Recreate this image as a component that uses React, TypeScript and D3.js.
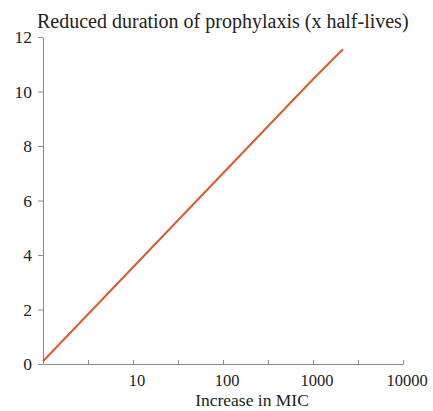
import React, { useEffect, useRef } from 'react';
import * as d3 from 'd3';

// values
const micIncrease = [1, 10, 100, 1000, 2150];
const reducedDuration = [0.1, 3.55, 7.0, 10.45, 11.55];
const xTickValues = [1, 3.1623, 10, 31.623, 100, 316.23, 1000, 3162.3, 10000];
const xTickLabels = ['10', '100', '1000', '10000'];
const yTickValues = [0, 2, 4, 6, 8, 10, 12];

const title = 'Reduced duration of prophylaxis (x half-lives)';
const xLabel = 'Increase in MIC';

const App = () => {
  const ref = useRef<SVGSVGElement>(null);
  const width = 433;
  const height = 411;

  useEffect(() => {
    const svg = d3.select(ref.current);
    svg.selectAll('*').remove();

    const margin = { top: 37, right: 30, bottom: 47, left: 43 };
    const font = 'Liberation Serif, Times New Roman, serif';
    const axisColor = '#8a8a8a';
    const textColor = '#222';

    const x = d3.scaleLog()
      .domain([1, 10000])
      .range([margin.left, width - margin.right]);
    const y = d3.scaleLinear()
      .domain([0, 12])
      .range([height - margin.bottom, margin.top]);

    // x axis, ticks pointing up
    const xAxis = svg.append('g')
      .attr('transform', `translate(0,${height - margin.bottom})`)
      .call(d3.axisBottom(x).tickValues(xTickValues).tickSizeInner(-4).tickSizeOuter(0).tickFormat(() => ''));
    xAxis.select('.domain').attr('stroke', axisColor);
    xAxis.selectAll('line').attr('stroke', axisColor);

    svg.append('g')
      .selectAll('text')
      .data(xTickLabels)
      .join('text')
      .attr('x', d => x(+d) + 4)
      .attr('y', height - margin.bottom + 22)
      .attr('text-anchor', 'middle')
      .attr('font-family', font)
      .attr('font-size', 16.5)
      .attr('fill', textColor)
      .text(d => d);

    // y axis
    const yAxis = svg.append('g')
      .attr('transform', `translate(${margin.left},0)`)
      .call(d3.axisLeft(y).tickValues(yTickValues).tickSizeInner(5).tickSizeOuter(0).tickPadding(6));
    yAxis.select('.domain').attr('stroke', axisColor);
    yAxis.selectAll('line').attr('stroke', axisColor);
    yAxis.selectAll('text')
      .attr('font-family', font)
      .attr('font-size', 17.5)
      .attr('fill', textColor);

    // the line
    const line = d3.line<number>()
      .x((_, i) => x(micIncrease[i]))
      .y(d => y(d));
    svg.append('path')
      .datum(reducedDuration)
      .attr('d', line)
      .attr('fill', 'none')
      .attr('stroke', '#dc5a2e')
      .attr('stroke-width', 2);

    svg.append('text')
      .attr('x', 37)
      .attr('y', 28)
      .attr('font-family', font)
      .attr('font-size', 20)
      .attr('fill', textColor)
      .text(title);

    svg.append('text')
      .attr('x', 252)
      .attr('y', height - 5)
      .attr('text-anchor', 'middle')
      .attr('font-family', font)
      .attr('font-size', 17.5)
      .attr('fill', textColor)
      .text(xLabel);
  }, []);

  return (
    <svg ref={ref} width={width} height={height}
      style={{ position: 'absolute', left: 0, top: 0, background: '#fff' }} />
  );
};

export default App;
